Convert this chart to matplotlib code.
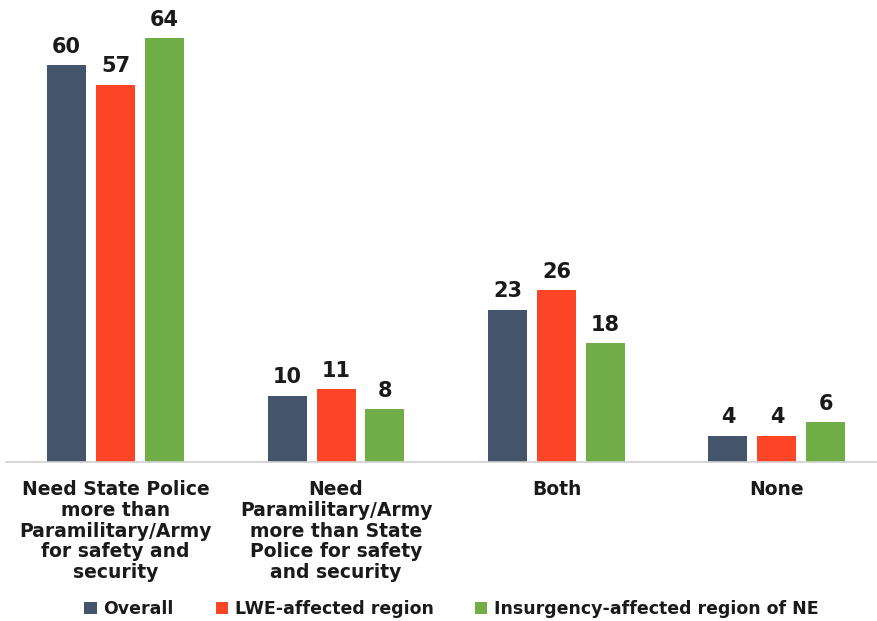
import numpy as np
import matplotlib.pyplot as plt

categories = [
    "Need State Police\nmore than\nParamilitary/Army\nfor safety and\nsecurity",
    "Need\nParamilitary/Army\nmore than State\nPolice for safety\nand security",
    "Both",
    "None",
]
series_names = ["Overall", "LWE-affected region", "Insurgency-affected region of NE"]
overall = [60, 10, 23, 4]
lwe = [57, 11, 26, 4]
insurgency = [64, 8, 18, 6]
colors = ["#44546A", "#FC4526", "#70AD47"]

fig = plt.figure(figsize=(8.77, 6.21), dpi=100)
ax = fig.add_axes([6 / 877, 159 / 621, 871 / 877, 462 / 621])

x = np.arange(len(categories))
width = 0.177
offset = 0.222

for i, (vals, name, col) in enumerate(zip([overall, lwe, insurgency], series_names, colors)):
    bars = ax.bar(x + (i - 1) * offset, vals, width, color=col, label=name)
    for b, v in zip(bars, vals):
        ax.annotate(str(v), (b.get_x() + b.get_width() / 2, v),
                    xytext=(0, 6), textcoords="offset points",
                    ha="center", va="bottom", fontsize=15, fontweight="bold",
                    color="#1a1a1a")

ax.set_xlim(-0.497, 3.454)
ax.set_ylim(0, 69.8)
ax.set_xticks(x)
ax.set_xticklabels(categories, fontsize=13.5, fontweight="bold", color="#1a1a1a",
                   linespacing=1.12, va="top")
ax.tick_params(axis="x", length=0, pad=13)
ax.set_yticks([])
for s in ["top", "right", "left"]:
    ax.spines[s].set_visible(False)
ax.spines["bottom"].set_color("#d0d0d0")
ax.spines["bottom"].set_linewidth(1.2)

fig.legend(loc="center", bbox_to_anchor=(0.515, 12 / 621), ncol=3, frameon=False,
           prop={"weight": "bold", "size": 12.5}, handlelength=0.7, handleheight=0.7,
           handletextpad=0.4, columnspacing=2.4, labelcolor="#1a1a1a")

fig.savefig("out.png", dpi=100)
